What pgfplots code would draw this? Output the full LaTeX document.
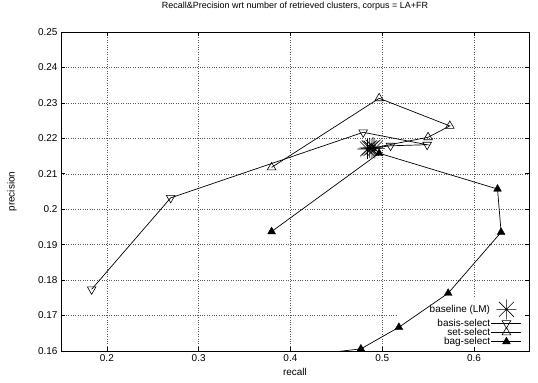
\documentclass[border=0pt]{standalone}
\usepackage{fontspec}
\setmainfont{Liberation Sans}
\usepackage{pgfplots}
\pgfplotsset{compat=1.18}
\pgfdeclareplotmark{gpstar}{%
  \pgfpathmoveto{\pgfqpoint{-\pgfplotmarksize}{0pt}}\pgfpathlineto{\pgfqpoint{\pgfplotmarksize}{0pt}}%
  \pgfpathmoveto{\pgfqpoint{0pt}{-\pgfplotmarksize}}\pgfpathlineto{\pgfqpoint{0pt}{\pgfplotmarksize}}%
  \pgfpathmoveto{\pgfqpoint{-0.75\pgfplotmarksize}{-0.75\pgfplotmarksize}}\pgfpathlineto{\pgfqpoint{0.75\pgfplotmarksize}{0.75\pgfplotmarksize}}%
  \pgfpathmoveto{\pgfqpoint{-0.75\pgfplotmarksize}{0.75\pgfplotmarksize}}\pgfpathlineto{\pgfqpoint{0.75\pgfplotmarksize}{-0.75\pgfplotmarksize}}%
  \pgfusepathqstroke}
\begin{document}
\begin{tikzpicture}
\begin{axis}[name=ax,
  set layers=standard,
  scale only axis, width=468bp, height=319bp,
  xmin=0.15, xmax=0.66, ymin=0.16, ymax=0.25,
  xtick={0.2,0.3,0.4,0.5,0.6},
  ytick={0.16,0.17,0.18,0.19,0.2,0.21,0.22,0.23,0.24,0.25},
  grid=major,
  grid style={dotted, black!65, line width=0.5pt, /pgfplots/on layer=axis background},
  tick align=inside, major tick length=4bp,
  axis line style={line width=0.9pt},
  tick style={black, line width=0.6pt},
  /pgf/number format/assume math mode=true,
  /pgf/number format/fixed, /pgf/number format/precision=2,
  ticklabel style={font=\fontsize{10}{12}\selectfont},
  title={Recall\&Precision wrt number of retrieved clusters, corpus = LA+FR},
  title style={font=\fontsize{9}{11}\selectfont, at={(axis description cs:0.5,1.0627)}, anchor=center},
  xlabel={recall},
  xlabel style={font=\fontsize{10}{12}\selectfont, at={(axis description cs:0.5,-0.0658)}, anchor=center},
  ylabel={precision},
  ylabel style={font=\fontsize{10}{12}\selectfont, at={(axis description cs:-0.1047,0.5)}, anchor=center, rotate=0},
  legend cell align=right, legend plot pos=right,
  legend style={draw=none, fill=none, font=\fontsize{10}{11}\selectfont,
    at={(axis description cs:0.985,0.012)}, anchor=south east,
    inner sep=0pt, row sep=-1.5pt, nodes={inner sep=1pt}},
  legend image code/.code={\draw[mark repeat=2,mark phase=2,#1] plot coordinates {(0bp,0bp) (15bp,0bp) (30bp,0bp)};},
  clip mode=individual,
]
\begin{pgfonlayer}{axis grid}
\fill[white] (rel axis cs:0.72,0.004) rectangle (rel axis cs:0.988,0.166);
\end{pgfonlayer}
\addplot[only marks, mark=gpstar, mark size=10bp, line width=0.6pt, black] coordinates {
  (0.484,0.2170) (0.486,0.2173) (0.488,0.2172) (0.490,0.2175) (0.492,0.2171)
};
\addlegendentry{baseline (LM)}
\addplot[black, line width=0.7pt, mark=triangle, mark size=5bp, mark options={rotate=180, fill=none, line width=0.6pt}] coordinates {
  (0.1834,0.1774) (0.2695,0.2032) (0.4793,0.2217) (0.549,0.2182) (0.5091,0.2179) (0.488,0.2172)
};
\addlegendentry{basis-select}
\addplot[black, line width=0.7pt, mark=triangle, mark size=5bp, mark options={fill=none, line width=0.6pt}] coordinates {
  (0.3795,0.2118) (0.4967,0.2313) (0.5737,0.2235) (0.550,0.2203) (0.488,0.2172)
};
\addlegendentry{set-select}
\addplot[black, line width=0.7pt, mark=triangle*, mark size=4.5bp, mark options={line width=0.4pt}] coordinates {
  (0.3795,0.1937) (0.4967,0.2158) (0.6257,0.2057) (0.6296,0.1935) (0.5719,0.1763) (0.5182,0.1667) (0.4768,0.1606) (0.43,0.1592)
};
\addlegendentry{bag-select}
\end{axis}
\pgfresetboundingbox
\path (ax.south west) ++(-61bp,-32bp) rectangle ++(538bp,383bp);
\end{tikzpicture}
\end{document}
